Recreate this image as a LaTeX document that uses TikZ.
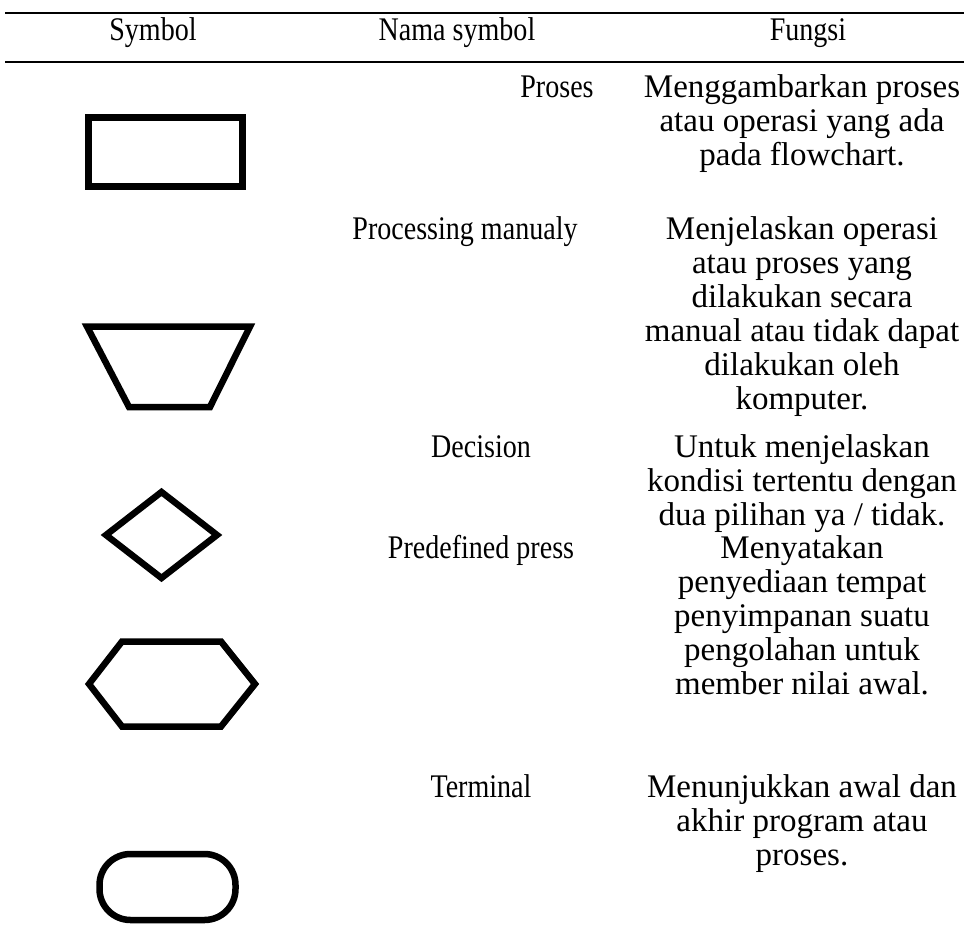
\documentclass[tikz,border=0pt]{standalone}
\usepackage{fontspec}
\setmainfont{Liberation Serif}
\newcommand{\cnd}[1]{\scalebox{0.85}[1]{#1}}
\begin{document}
\begin{tikzpicture}[x=1pt,y=-1pt,
  txt/.style={anchor=base, inner sep=0pt, font=\fontsize{33}{34}\selectfont},
  shp/.style={draw, line width=6.5pt, line join=miter},
  rule/.style={line width=2.2pt}]
\useasboundingbox (0,0) rectangle (964,938);
% rules
\coordinate (r1a) at (5,13); \coordinate (r1b) at (964,13);
\coordinate (r2a) at (5,62); \coordinate (r2b) at (964,62);
\draw[rule] (r1a) -- (r1b);
\draw[rule] (r2a) -- (r2b);
% header
\node[txt] (h1) at (153,40) {\cnd{Symbol}};
\node[txt] (h2) at (457,40) {\cnd{Nama symbol}};
\node[txt] (h3) at (808,40) {\cnd{Fungsi}};
% row 1
\node[txt] (n1) at (557,97) {\cnd{Proses}};
\node[txt] (f1a) at (802,97) {Menggambarkan proses};
\node[txt] (f1b) at (802,131) {atau operasi yang ada};
\node[txt] (f1c) at (802,165) {pada flowchart.};
% row 2
\node[txt] (n2) at (465,239) {\cnd{Processing manualy}};
\node[txt] (f2a) at (802,239) {Menjelaskan operasi};
\node[txt] (f2b) at (802,273) {atau proses yang};
\node[txt] (f2c) at (802,307) {dilakukan secara};
\node[txt] (f2d) at (802,341) {manual atau tidak dapat};
\node[txt] (f2e) at (802,375) {dilakukan oleh};
\node[txt] (f2f) at (802,409) {komputer.};
% row 3
\node[txt] (n3) at (481,457) {\cnd{Decision}};
\node[txt] (f3a) at (802,457) {Untuk menjelaskan};
\node[txt] (f3b) at (802,491) {kondisi tertentu dengan};
\node[txt] (f3c) at (802,525) {dua pilihan ya / tidak.};
% row 4
\node[txt] (n4) at (481,558) {\cnd{Predefined press}};
\node[txt] (f4a) at (802,558) {Menyatakan};
\node[txt] (f4b) at (802,592) {penyediaan tempat};
\node[txt] (f4c) at (802,626) {penyimpanan suatu};
\node[txt] (f4d) at (802,660) {pengolahan untuk};
\node[txt] (f4e) at (802,694) {member nilai awal.};
% row 5
\node[txt] (n5) at (481,797) {\cnd{Terminal}};
\node[txt] (f5a) at (802,797) {Menunjukkan awal dan};
\node[txt] (f5b) at (802,831) {akhir program atau};
\node[txt] (f5c) at (802,865) {proses.};
% shapes
\draw[shp] (88.3,117.3) rectangle (242.5,186.5);
\draw[shp] (87,326.5) -- (250,326.5) -- (210,407) -- (129,407) -- cycle;
\draw[shp] (106,535) -- (161.5,492) -- (217,535) -- (161.5,578) -- cycle;
\draw[shp] (89,684) -- (122,641.5) -- (221,641.5) -- (255,684) -- (221,726.5) -- (122,726.5) -- cycle;
\draw[shp, rounded corners=31pt] (99.5,854) rectangle (235.5,920);
\end{tikzpicture}
\end{document}
